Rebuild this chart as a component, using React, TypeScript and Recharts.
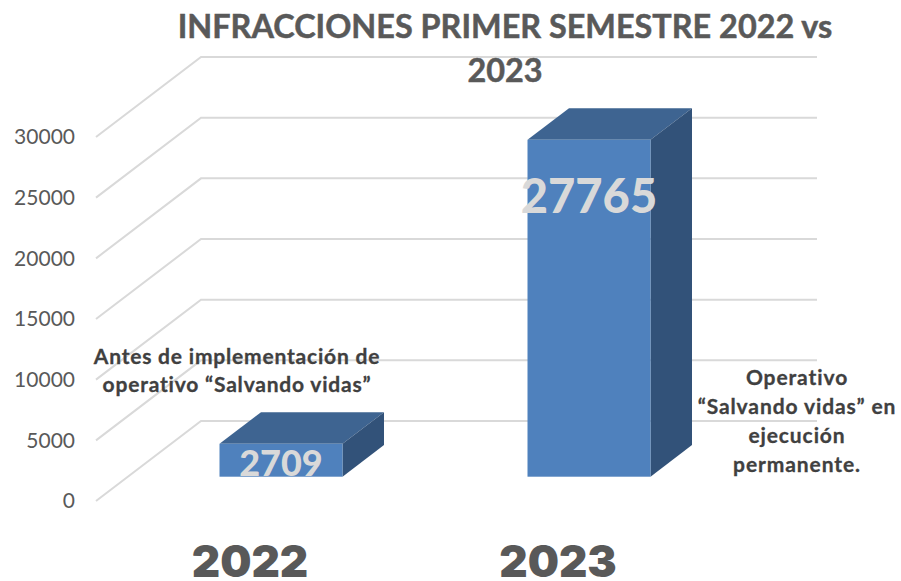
import { BarChart, Bar, XAxis, YAxis, CartesianGrid, LabelList } from "recharts";

const years = ["2022", "2023"];
const infractions = [2709, 27765];
const yTicks = [0, 5000, 10000, 15000, 20000, 25000, 30000];
const titleLines = ["INFRACCIONES PRIMER SEMESTRE 2022 vs", "2023"];
const noteBefore = ["Antes de implementación de", "operativo “Salvando vidas”"];
const noteDuring = ["Operativo", "“Salvando vidas” en", "ejecución", "permanente."];

const data = years.map((year, i) => ({ year, value: infractions[i] }));

const FONT = "Lato, Carlito, sans-serif";
const GRAY = "#595959";
// floor depth of the fake 3d box
const WALL_DX = 105;
const WALL_DY = 80;
const BAR_SHIFT_X = 30.5;
const BAR_SHIFT_Y = 24.3;
const BAR_DX = 41.5;
const BAR_DY = 31.6;

const labelLook = [
  { fontSize: 36, dy: 18 },
  { fontSize: 47, dy: 55 },
];

const WallLine = ({ x1, y1, x2 }: any) => (
  <polyline
    points={`${x1},${y1} ${x1 + WALL_DX},${y1 - WALL_DY} ${x2 + WALL_DX},${y1 - WALL_DY}`}
    fill="none"
    stroke="#d9d9d9"
    strokeWidth={2}
  />
);

const Box = ({ x, y, width, height }: any) => {
  const l = x + BAR_SHIFT_X;
  const r = l + width;
  const t = y - BAR_SHIFT_Y;
  const b = t + height;
  return (
    <g>
      <polygon
        points={`${l},${t} ${l + BAR_DX},${t - BAR_DY} ${r + BAR_DX},${t - BAR_DY} ${r},${t}`}
        fill="#3e6491"
      />
      <polygon
        points={`${r},${t} ${r + BAR_DX},${t - BAR_DY} ${r + BAR_DX},${b - BAR_DY} ${r},${b}`}
        fill="#325279"
      />
      <rect x={l} y={t} width={width} height={height} fill="#4f81bd" />
    </g>
  );
};

const BarValue = ({ x, y, width, index, value }: any) => {
  const look = labelLook[index];
  return (
    <text
      x={x + BAR_SHIFT_X + width / 2}
      y={y - BAR_SHIFT_Y + look.dy}
      textAnchor="middle"
      dominantBaseline="central"
      fontFamily={FONT}
      fontWeight={900}
      fontSize={look.fontSize}
      fill="#d9d9d9"
    >
      {value}
    </text>
  );
};

export default function App() {
  return (
    <div style={{ position: "absolute", left: 0, top: 0, width: 901, height: 581, overflow: "hidden" }}>
      <BarChart
        width={901}
        height={581}
        data={data}
        margin={{ top: 137, right: 189, bottom: 0, left: 0 }}
      >
        <CartesianGrid vertical={false} horizontal={(props: any) => <WallLine key={props.index} {...props} />} />
        <XAxis
          dataKey="year"
          axisLine={false}
          tickLine={false}
          height={80}
          tickMargin={39}
          tick={{ fontFamily: "Inter, sans-serif", fontWeight: 900, fontSize: 44, fill: GRAY }}
        />
        <YAxis
          domain={[0, 30000]}
          ticks={yTicks}
          width={96}
          axisLine={false}
          tickLine={false}
          tickMargin={15}
          tick={{ fontFamily: FONT, fontSize: 21, fill: GRAY }}
        />
        <Bar dataKey="value" barSize={123} isAnimationActive={false} shape={<Box />}>
          <LabelList dataKey="value" content={<BarValue />} />
        </Bar>
        <g fontFamily={FONT} fontWeight={700} textAnchor="middle">
          {titleLines.map((line, i) => (
            <text key={line} x={505} y={38 + i * 44} fontSize={32.4} fill={GRAY} stroke={GRAY} strokeWidth={0.5}>
              {line}
            </text>
          ))}
          {noteBefore.map((line, i) => (
            <text key={line} x={237} y={364 + i * 28} fontSize={21} letterSpacing={0.8} fill="#404040" stroke="#404040" strokeWidth={0.3}>
              {line}
            </text>
          ))}
          {noteDuring.map((line, i) => (
            <text key={line} x={797} y={385 + i * 29} fontSize={21} letterSpacing={0.9} fill="#404040" stroke="#404040" strokeWidth={0.3}>
              {line}
            </text>
          ))}
        </g>
      </BarChart>
    </div>
  );
}
